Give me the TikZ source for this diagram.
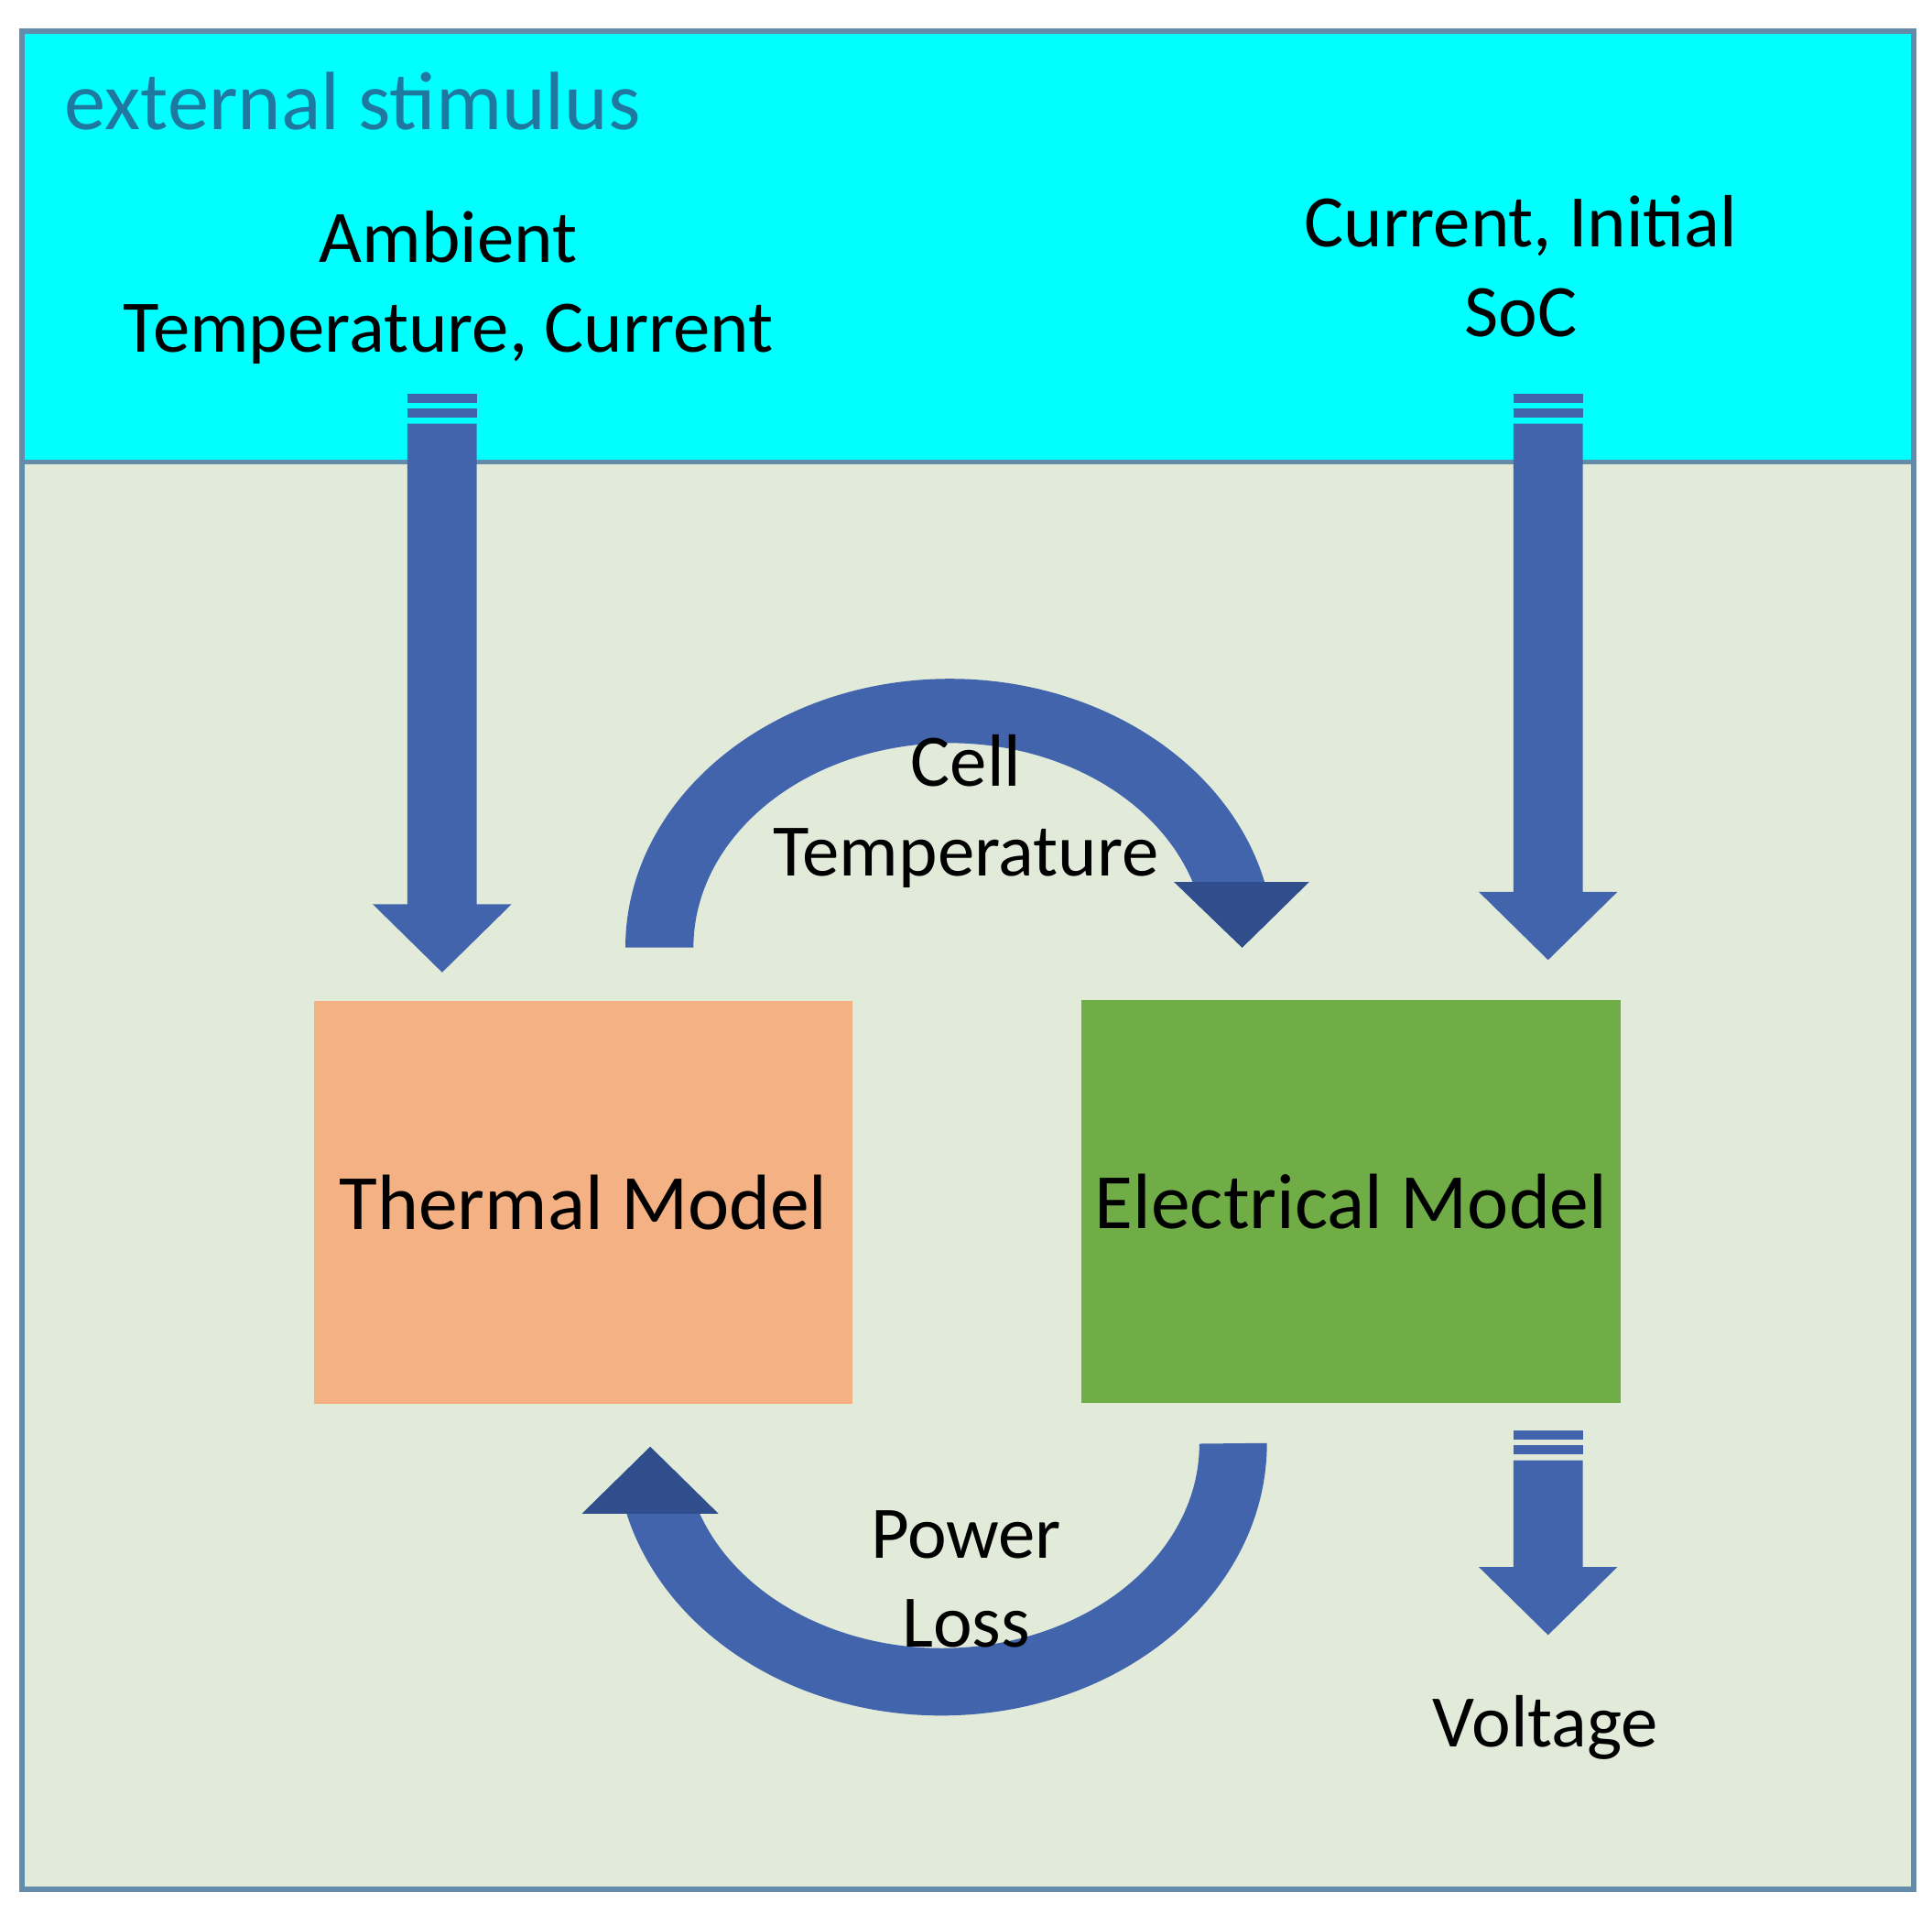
\documentclass[tikz,border=0pt]{standalone}
\usepackage{fontspec}
\setmainfont{Carlito}
\usepackage{tikz}
\usetikzlibrary{calc}

\definecolor{stimcyan}{RGB}{0,255,255}
\definecolor{bgpale}{RGB}{226,235,217}
\definecolor{framecol}{RGB}{100,140,170}
\definecolor{arrowblue}{RGB}{66,100,172}
\definecolor{arrowdark}{RGB}{48,78,140}
\definecolor{thermalcol}{RGB}{244,177,131}
\definecolor{eleccol}{RGB}{112,173,71}
\definecolor{stimtext}{RGB}{31,120,160}

\tikzset{
  lbl/.style={align=center, font=\fontsize{17}{20.5}\selectfont, text=black},
  block/.style={minimum width=4.35cm, minimum height=3.25cm, inner sep=0pt, font=\fontsize{18}{22}\selectfont}
}

% straight block arrow: x centre, top y, head base y, tip y
\newcommand{\blockarrow}[4]{
  \fill[arrowblue] (#1-28,#2) rectangle (#1+28,#2+7);
  \fill[arrowblue] (#1-28,#2+12) rectangle (#1+28,#2+19);
  \fill[arrowblue] (#1-28,#2+24) -- (#1+28,#2+24) -- (#1+28,#3) -- (#1+56,#3)
    -- (#1,#4) -- (#1-56,#3) -- (#1-28,#3) -- cycle;
}

\begin{document}
\begin{tikzpicture}[x=0.01cm, y=-0.01cm]
\useasboundingbox (0,0) rectangle (1560,1545);
\fill[white] (0,0) rectangle (1560,1545);

% background panels
\fill[bgpale] (18,373) rectangle (1545,1525);
\fill[stimcyan] (18,25) rectangle (1545,373);
\draw[framecol, line width=1.2pt] (18,25) rectangle (1545,1525);
\draw[framecol, line width=1pt] (18,373) -- (1545,373);

\node[anchor=west, text=stimtext, font=\fontsize{19}{22}\selectfont] (stim) at (40,82) {external stimulus};
\node[lbl] (ambient) at (362,232) {Ambient\\Temperature, Current};
\node[lbl] (initsoc) at (1228,215) {Current, Initial\\SoC};

% models
\node[block, fill=thermalcol] (thermal) at (471,971) {Thermal Model};
\node[block, fill=eleccol] (electrical) at (1091,970) {Electrical Model};

% input and output arrows
\blockarrow{357}{318}{730}{785}
\blockarrow{1250}{318}{720}{775}
\blockarrow{1250}{1155}{1265}{1320}

% cell temperature arc
\fill[arrowblue] (505,765) arc[start angle=180, end angle=14, x radius=262, y radius=-217]
  -- (1057,712) -- (1003,765) -- (948,712)
  -- (963,712) arc[start angle=18.7, end angle=180, x radius=207, y radius=-165] -- cycle;
\fill[arrowdark] (948,712) -- (1057,712) -- (1003,765) -- cycle;

% power loss arc
\fill[arrowblue] (1023,1165) arc[start angle=0, end angle=-165, x radius=263, y radius=-220]
  -- (580,1222) -- (525,1168) -- (470,1222)
  -- (565,1222) arc[start angle=-160, end angle=0, x radius=208, y radius=-165] -- cycle;
\fill[arrowdark] (470,1222) -- (580,1222) -- (525,1168) -- cycle;

\node[lbl] (celltemp) at (780,655) {Cell\\Temperature};
\node[lbl] (powerloss) at (780,1275) {Power\\Loss};
\node[lbl] (voltage) at (1248,1395) {Voltage};
\end{tikzpicture}
\end{document}
